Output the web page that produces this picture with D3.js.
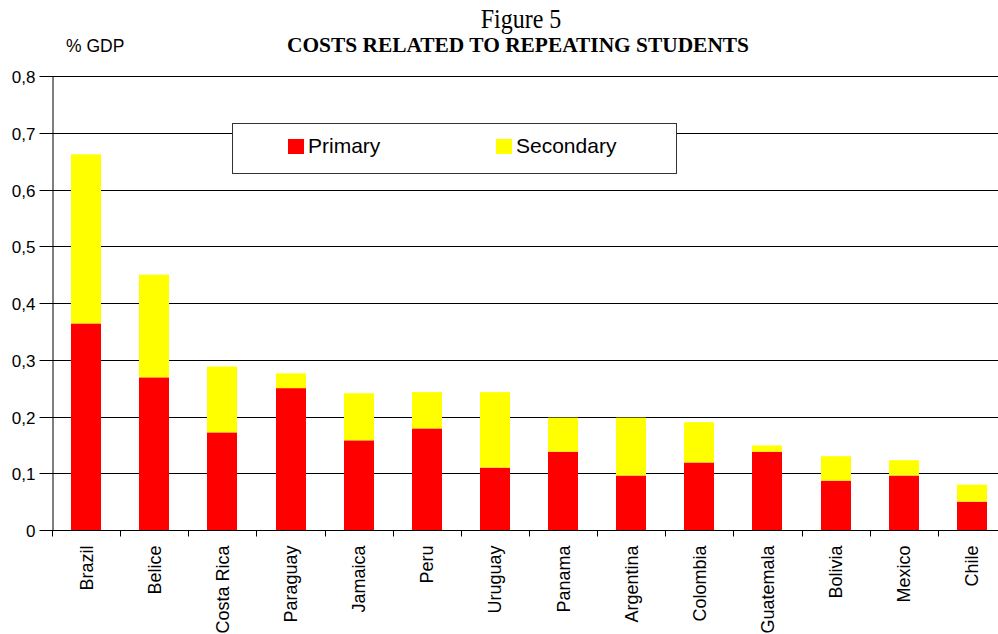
<!DOCTYPE html>
<html>
<head>
<meta charset="utf-8">
<script src="https://cdn.jsdelivr.net/npm/d3@7"></script>
<style>
  html, body { margin: 0; padding: 0; background: #fff; }
  svg { display: block; }
  text { font-family: "Liberation Sans", Arial, sans-serif; fill: #000; }
  .serif { font-family: "Liberation Serif", "Times New Roman", serif; }
</style>
</head>
<body>
<svg id="chart" width="998" height="634"></svg>
<script>
// Costs related to repeating students, % of GDP, by level of education
const countries = ["Brazil", "Belice", "Costa Rica", "Paraguay", "Jamaica", "Peru", "Uruguay",
  "Panama", "Argentina", "Colombia", "Guatemala", "Bolivia", "Mexico", "Chile"];
const primary   = [0.364, 0.269, 0.172, 0.250, 0.158, 0.179, 0.110, 0.138, 0.096, 0.119, 0.138, 0.087, 0.096, 0.050];
const secondary = [0.298, 0.181, 0.116, 0.026, 0.083, 0.064, 0.133, 0.060, 0.102, 0.071, 0.011, 0.043, 0.027, 0.030];
const yTicks = [0, 0.1, 0.2, 0.3, 0.4, 0.5, 0.6, 0.7, 0.8];
const seriesNames = ["Primary", "Secondary"];
const seriesColors = ["#ff0000", "#ffff00"];

const svg = d3.select("#chart");
const plot = { left: 52, right: 1006, top: 76, bottom: 530 };

const x = d3.scaleBand().domain(countries).range([plot.left, plot.right]).paddingInner(0).paddingOuter(0);
const y = d3.scaleLinear().domain([0, 0.8]).range([plot.bottom, plot.top]);
const barW = 30;

// Titles
svg.append("text").attr("class", "serif")
  .attr("transform", "translate(521,28) scale(1,1.12)")
  .attr("text-anchor", "middle").style("font-size", "24px").text("Figure 5");
svg.append("text").attr("class", "serif").attr("x", 518).attr("y", 52)
  .attr("text-anchor", "middle").style("font-size", "21.4px").style("font-weight", "bold")
  .text("COSTS RELATED TO REPEATING STUDENTS");
svg.append("text").attr("x", 66).attr("y", 52).style("font-size", "17.5px").text("% GDP");

// Horizontal gridlines
svg.append("g").selectAll("line").data(yTicks.filter(d => d > 0)).join("line")
  .attr("x1", plot.left).attr("x2", plot.right)
  .attr("y1", d => Math.round(y(d)) + 0.5).attr("y2", d => Math.round(y(d)) + 0.5)
  .attr("stroke", "#000").attr("stroke-width", 1);

// Y axis
const yAxis = svg.append("g").attr("transform", `translate(${plot.left + 0.5},0)`)
  .call(d3.axisLeft(y).tickValues(yTicks).tickSize(13).tickSizeOuter(0)
    .tickFormat(d => d === 0 ? "0" : d3.format(".1f")(d).replace(".", ",")));
yAxis.select(".domain").attr("stroke", "#000");
yAxis.selectAll(".tick line").attr("stroke", "#000");
yAxis.selectAll(".tick").attr("transform", d => `translate(0,${Math.round(y(d)) + 0.5})`);
yAxis.selectAll(".tick text").attr("x", -17).attr("dy", "0.36em")
  .style("font-size", "17px").style("font-family", "'Liberation Sans', Arial, sans-serif").attr("fill", "#000");

// Stacked bars
const stackData = countries.map((c, i) => ({ country: c, Primary: primary[i], Secondary: secondary[i] }));
const stacked = d3.stack().keys(seriesNames)(stackData);
svg.append("g").selectAll("g").data(stacked).join("g")
  .attr("fill", (d, i) => seriesColors[i])
  .selectAll("rect").data(d => d).join("rect")
  .attr("x", d => Math.round(x(d.data.country) + x.bandwidth() / 2 - barW / 2))
  .attr("width", barW)
  .attr("y", d => y(d[1]))
  .attr("height", d => y(d[0]) - y(d[1]));

// X axis
const xAxis = svg.append("g").attr("transform", `translate(0,${plot.bottom + 0.5})`);
xAxis.append("line").attr("x1", plot.left).attr("x2", plot.right).attr("stroke", "#000");
const edges = countries.map(c => x(c));
xAxis.selectAll("line.tk").data(edges).join("line").attr("class", "tk")
  .attr("x1", d => Math.round(d) + 0.5).attr("x2", d => Math.round(d) + 0.5)
  .attr("y1", 0).attr("y2", 6).attr("stroke", "#000");
xAxis.selectAll("text").data(countries).join("text")
  .attr("transform", d => `translate(${x(d) + x.bandwidth() / 2 + 6.5},15) rotate(-90)`)
  .attr("text-anchor", "end").style("font-size", "18px").text(d => d);

// Legend
const lg = svg.append("g");
lg.append("rect").attr("x", 232.5).attr("y", 123.5).attr("width", 444).attr("height", 50)
  .attr("fill", "#fff").attr("stroke", "#333").attr("stroke-width", 1);
const legendX = [288, 496];
seriesNames.forEach((name, i) => {
  lg.append("rect").attr("x", legendX[i]).attr("y", 139).attr("width", 16).attr("height", 15)
    .attr("fill", seriesColors[i]);
  lg.append("text").attr("x", legendX[i] + 20).attr("y", 153).style("font-size", "21px").text(name);
});
</script>
</body>
</html>
